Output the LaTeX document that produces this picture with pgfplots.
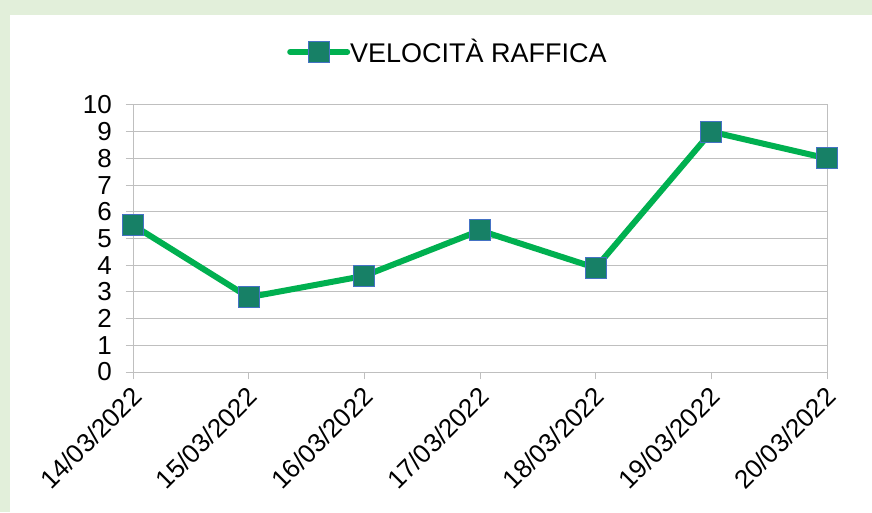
\documentclass[border=0pt]{standalone}
\usepackage{fontspec}
\setmainfont{Liberation Sans}
\usepackage{pgfplots}
\pgfplotsset{compat=1.18}
\definecolor{bggreen}{HTML}{E2EFDA}
\definecolor{linegreen}{HTML}{00B050}
\definecolor{markfill}{HTML}{178066}
\definecolor{markedge}{HTML}{4472C4}
\definecolor{gridgray}{HTML}{BFBFBF}
\begin{document}
\begin{tikzpicture}
\fill[bggreen] (0,0) rectangle (872pt,512pt);
\fill[white] (10pt,0) rectangle (872pt,497pt);
\begin{axis}[
  at={(133pt,140pt)}, anchor=south west,
  scale only axis, width=694pt, height=267pt,
  xmin=0, xmax=6, ymin=0, ymax=10,
  xtick={0,...,6},
  xticklabels={14/03/2022,15/03/2022,16/03/2022,17/03/2022,18/03/2022,19/03/2022,20/03/2022},
  ytick={0,...,10},
  ymajorgrids, grid style={gridgray, line width=1pt},
  axis line style={gridgray, line width=1pt},
  tick style={gridgray, line width=1pt},
  tick align=outside, major tick length=7pt,
  xtick pos=bottom, ytick pos=left,
  /pgf/number format/assume math mode=true,
  tick label style={font=\fontsize{26}{28}\selectfont, black},
  x tick label style={xshift=-3pt, yshift=-6pt, rotate=45, anchor=north east, inner sep=0pt},
  y tick label style={inner sep=0pt, xshift=-14pt},
  legend style={at={(0.4524,1.1985)}, anchor=center, draw=none, fill=none,
    font=\fontsize{27}{30}\selectfont, legend cell align=left, inner sep=0pt,
    /tikz/every even column/.append style={column sep=0pt}},
  legend image code/.code={
    \draw[linegreen, line width=6pt, line cap=round] (0pt,0pt) -- (57pt,0pt);
    \draw[markedge, fill=markfill, line width=1pt] (18pt,-10.5pt) rectangle (39pt,10.5pt);
  },
]
\addplot[linegreen, line width=6pt, mark=square*, mark size=10.5pt,
  mark options={draw=markedge, fill=markfill, line width=1pt}]
  coordinates {(0,5.5) (1,2.8) (2,3.6) (3,5.3) (4,3.9) (5,9.0) (6,8.0)};
\addlegendentry[inner xsep=0pt]{VELOCITÀ RAFFICA}
\end{axis}
\pgfresetboundingbox
\path (0,0) rectangle (872pt,512pt);
\end{tikzpicture}
\end{document}
